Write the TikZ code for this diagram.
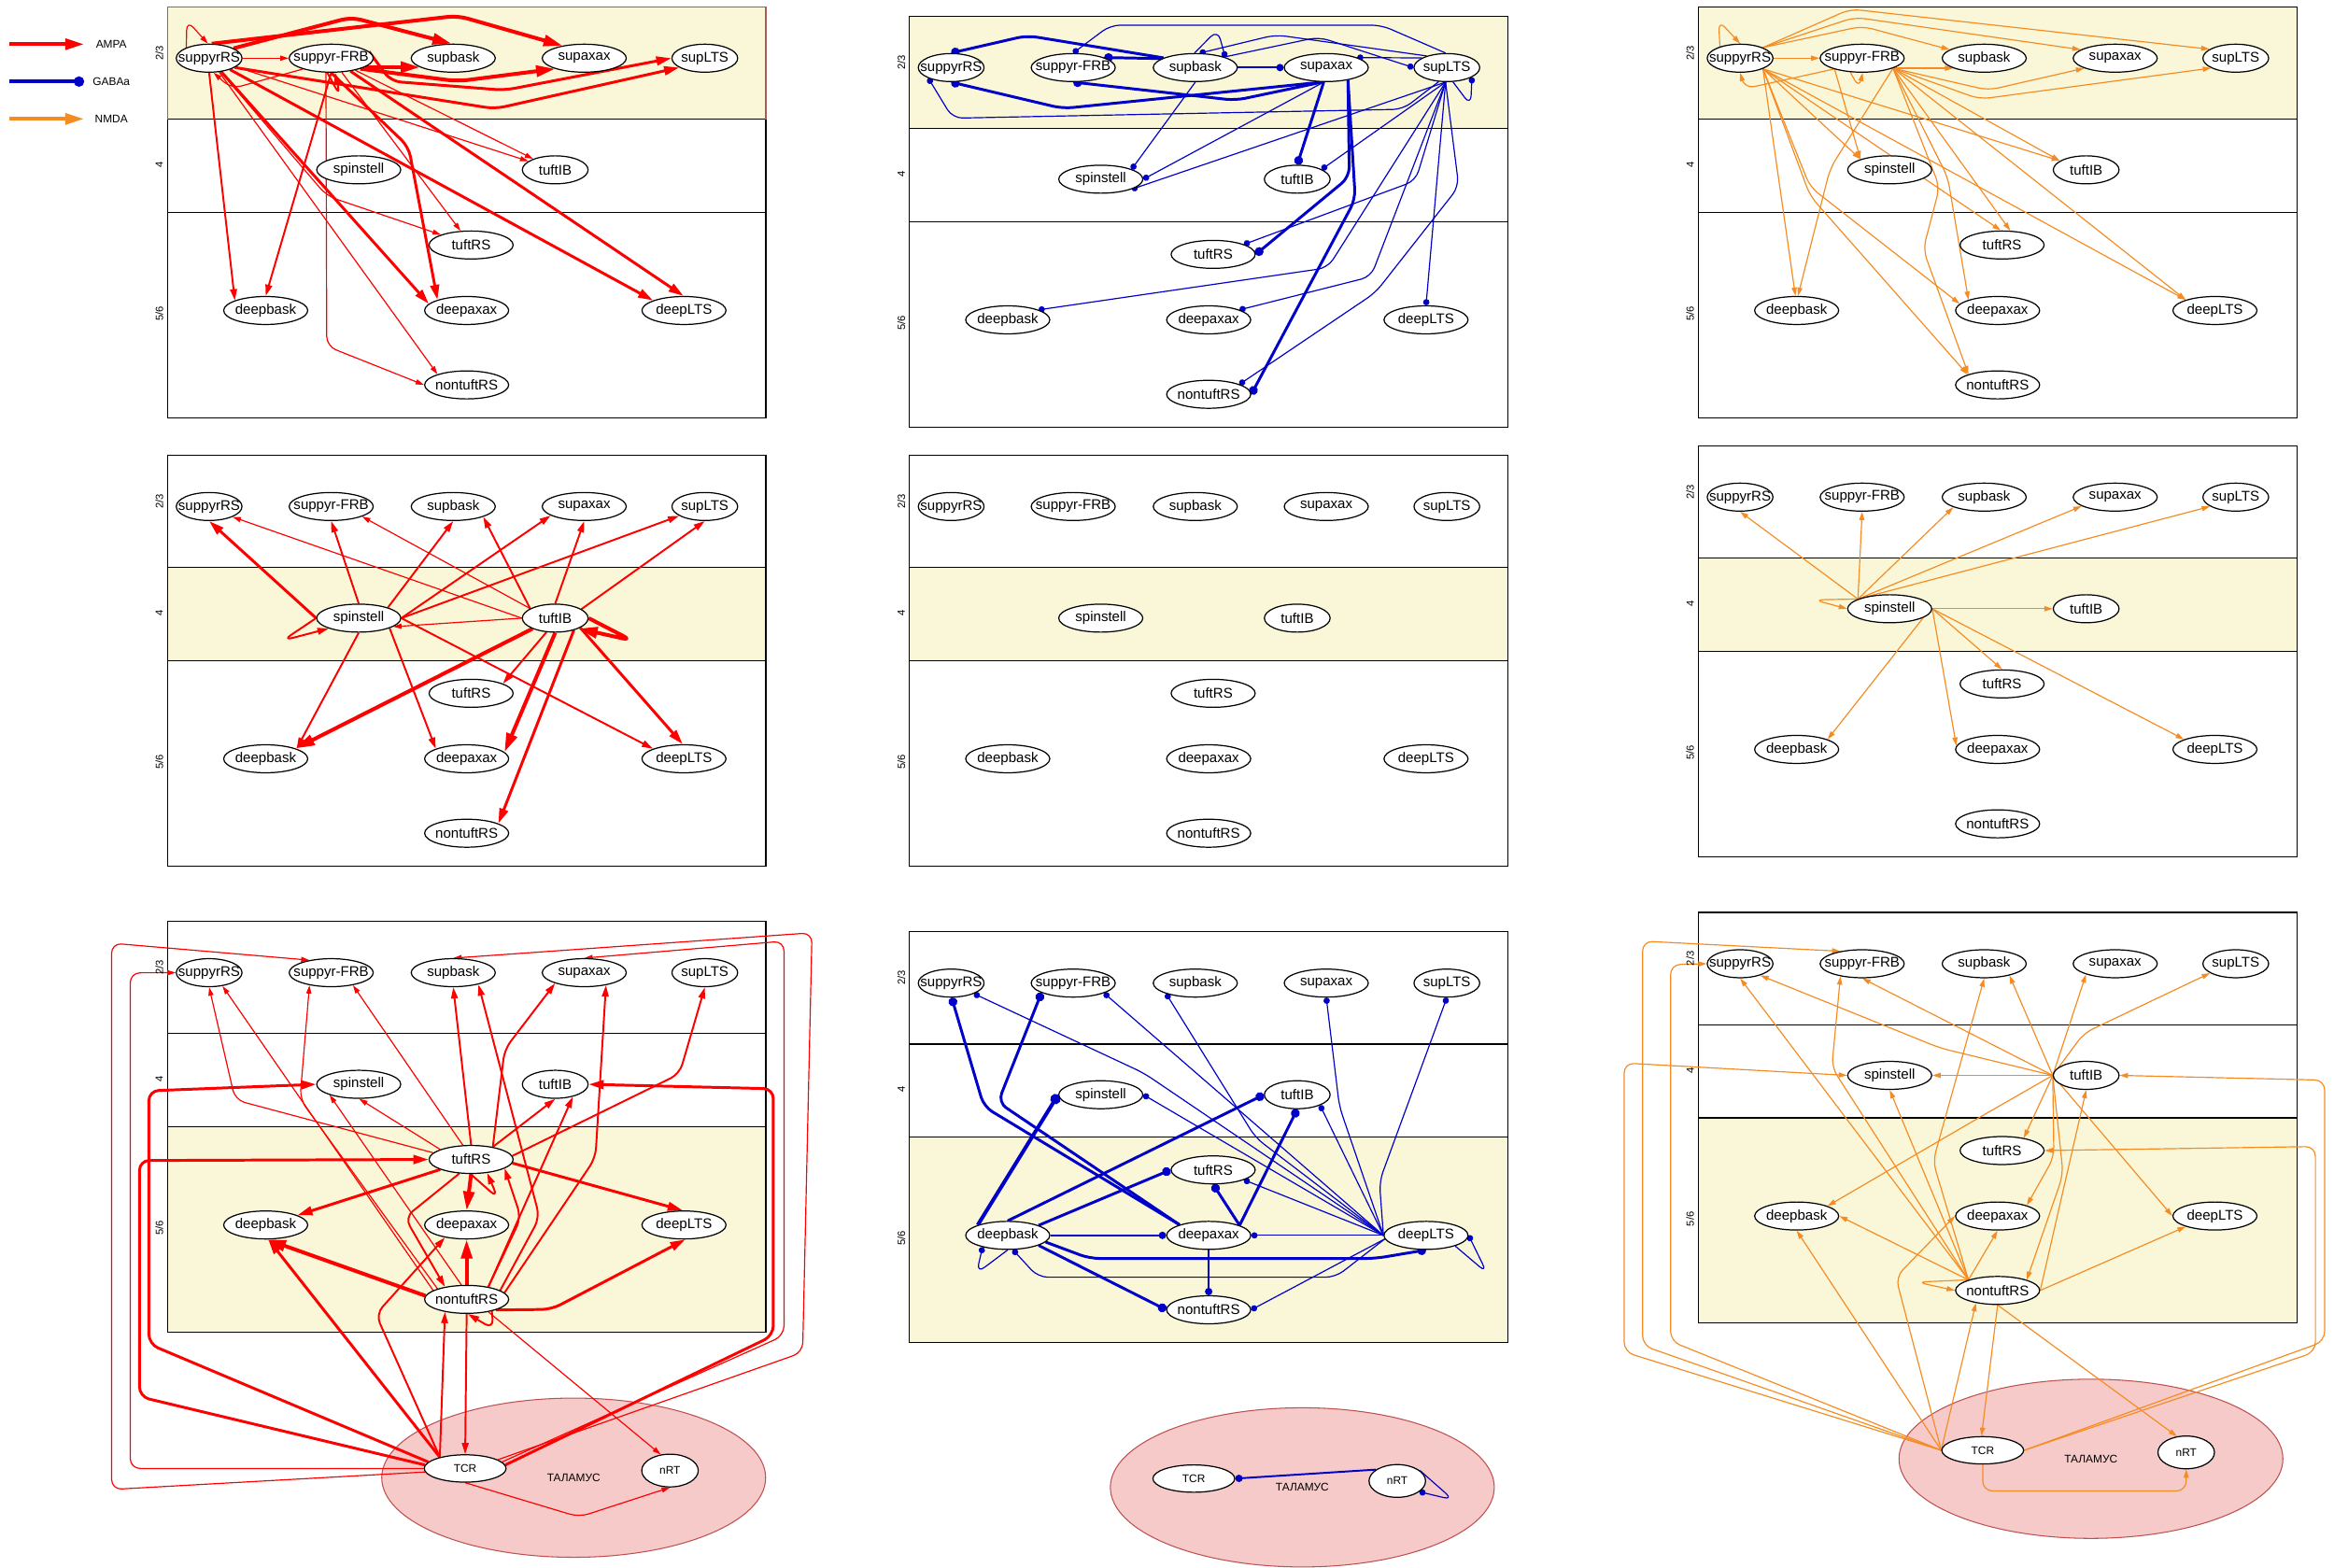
\documentclass[tikz,border=0pt]{standalone}
\usepackage{fontspec}
\setmainfont{Liberation Sans}
\usetikzlibrary{shapes.geometric,arrows.meta}
\definecolor{ampa}{RGB}{255,0,0}
\definecolor{gaba}{RGB}{0,0,200}
\definecolor{nmda}{RGB}{245,140,35}
\definecolor{bandc}{RGB}{249,247,216}
\definecolor{thfill}{RGB}{247,202,202}
\definecolor{thdraw}{RGB}{190,80,80}
\definecolor{boxbrown}{RGB}{170,90,80}
\pgfdeclarelayer{bands}\pgfdeclarelayer{edges}
\pgfsetlayers{bands,edges,main}
\newcommand\zbox[1]{\makebox[0pt]{#1}}
\newcommand\cellfont{\fontsize{4.3}{5}\selectfont}
\newcommand\smallfnt{\fontsize{3.4}{4}\selectfont}
\newcommand\layfnt{\fontsize{3.2}{4}\selectfont}
\tikzset{
 cell/.style={ellipse, draw=black, line width=0.35pt, fill=white, inner sep=0pt, minimum width=0.904cm, minimum height=0.301cm, font=\cellfont},
 cellN/.style={cell, minimum width=0.707cm},
 tcr/.style={cell, minimum width=0.88cm, minimum height=0.294cm, font=\smallfnt},
 nrt/.style={cell, minimum width=0.608cm, minimum height=0.352cm, font=\smallfnt},
 thal/.style={ellipse, draw=thdraw, line width=0.3pt, fill=thfill, inner sep=0pt, minimum width=4.128cm, minimum height=1.712cm, font=\smallfnt},
 lay/.style={rotate=90, inner sep=0pt, font=\layfnt},
 band/.style={fill=bandc},
 box/.style={draw=black, line width=0.35pt},
 conn/.style={rounded corners=3pt, line join=round},
 am/.style={conn, draw=ampa, -{Triangle[length=1.2pt 4, width=0.8pt 2.2]}},
 ga/.style={conn, draw=gaba, -{Circle[length=1.4pt 1.5]}},
 nm/.style={conn, draw=nmda, -{Triangle[length=1.2pt 4, width=0.8pt 2.2]}},
 wA/.style={line width=0.34pt}, wB/.style={line width=0.56pt},
 wC/.style={line width=0.85pt}, wD/.style={line width=1.15pt},
}
\newcommand\mkcells[1]{%
 \node[cellN] (#1-sr) at (28,34.5) {\zbox{suppyrRS}};
 \node[cell] (#1-sf) at (110,34.5) {\zbox{suppyr-FRB}};
 \node[cell] (#1-sb) at (192,34.5) {\zbox{supbask}};
 \node[cell] (#1-sa) at (280,34.5) {\zbox{supaxax}};
 \node[cellN] (#1-sl) at (361,34.5) {\zbox{supLTS}};
 \node[cell] (#1-ss) at (128.5,109.5) {\zbox{spinstell}};
 \node[cellN] (#1-ti) at (260.5,109.5) {\zbox{tuftIB}};
 \node[cell] (#1-tr) at (204,160) {\zbox{tuftRS}};
 \node[cell] (#1-db) at (66,204) {\zbox{deepbask}};
 \node[cell] (#1-da) at (201,204) {\zbox{deepaxax}};
 \node[cell] (#1-dl) at (347,204) {\zbox{deepLTS}};
 \node[cell] (#1-nr) at (201,254) {\zbox{nontuftRS}};}
\newcommand\mkpanel[4]{%
 \begin{scope}[shift={(#2,#3)}]
  \begin{pgfonlayer}{bands}
   \ifcase#4\or \fill[band] (0,0) rectangle (402,75.5);%
   \or \fill[band] (0,75.5) rectangle (402,138);%
   \or \fill[band] (0,138) rectangle (402,276);\fi
   \draw[box] (0,0) rectangle (402,276) (0,75.5) -- (402,75.5) (0,138) -- (402,138);
  \end{pgfonlayer}
  \node[lay] (#1-L1) at (-5.5,31) {2/3};
  \node[lay] (#1-L2) at (-5.5,106) {4};
  \node[lay] (#1-L3) at (-5.5,206) {5/6};
  \mkcells{#1}
 \end{scope}}
\begin{document}
\begin{tikzpicture}[x=0.016cm, y=-0.016cm]
\useasboundingbox (0,0) rectangle (1568,1053);
% legend
\coordinate (lg1a) at (6,29.7); \coordinate (lg1b) at (56.5,29.7);
\coordinate (lg2a) at (6,54.8); \coordinate (lg2b) at (56.5,54.8);
\coordinate (lg3a) at (6,79.9); \coordinate (lg3b) at (56.5,79.9);
\node[font=\smallfnt] (lg1) at (74.8,29.7) {AMPA};
\node[font=\smallfnt] (lg2) at (74.8,54.8) {GABAa};
\node[font=\smallfnt] (lg3) at (74.8,79.9) {NMDA};
\draw[am, line width=1.15pt] (lg1a) -- (lg1b);
\draw[ga, line width=1.15pt] (lg2a) -- (lg2b);
\draw[nm, line width=1.15pt] (lg3a) -- (lg3b);
% panels
\mkpanel{A}{112.5}{4.6}{1}
\begin{scope}[shift={(112.5,4.6)}]
 \begin{pgfonlayer}{bands}\draw[draw=boxbrown, line width=0.35pt] (0,75.5) -- (0,0) -- (402,0) -- (402,75.5);\end{pgfonlayer}
\end{scope}
\mkpanel{B}{611}{10.9}{1}
\mkpanel{C}{1141}{4.6}{1}
\mkpanel{D}{112.5}{305.8}{2}
\mkpanel{E}{611}{305.8}{2}
\mkpanel{F}{1141}{299.5}{2}
\mkpanel{G}{112.5}{619}{3}
\mkpanel{H}{611}{626}{3}
\mkpanel{I}{1141}{613}{3}
% thalamus
\begin{scope}[shift={(112.5,619)}]
 \begin{pgfonlayer}{bands}\node[thal] (G-th) at (272.9,373.8) {ТАЛАМУС};\end{pgfonlayer}
 \node[tcr] (G-tc) at (200,367.6) {TCR};
 \node[nrt] (G-nt) at (337.6,369) {nRT};
\end{scope}
\begin{scope}[shift={(611,626)}]
 \begin{pgfonlayer}{bands}\node[thal] (H-th) at (263.9,373.3) {ТАЛАМУС};\end{pgfonlayer}
 \node[tcr] (H-tc) at (191,367.4) {TCR};
 \node[nrt] (H-nt) at (327.7,369) {nRT};
\end{scope}
\begin{scope}[shift={(1141,613)}]
 \begin{pgfonlayer}{bands}\node[thal] (I-th) at (263.7,367.1) {ТАЛАМУС};\end{pgfonlayer}
 \node[tcr] (I-tc) at (191,361.4) {TCR};
 \node[nrt] (I-nt) at (327.7,362.8) {nRT};
\end{scope}
\begin{pgfonlayer}{edges}
% ---------- A
\begin{scope}[shift={(112.5,4.6)}]
\draw[am,wA] (A-sr.155) -- (13,9) -- (A-sr.95);
\draw[am,wA] (A-sr) -- (A-sf);
\draw[am,wD] (A-sr.22) -- (123.5,7) -- (A-sb.97);
\draw[am,wD] (A-sr.80) -- (195,6) -- (A-sa.150);
\draw[am,wD] (A-sf.-15) -- (A-sb.-165);
\draw[am,wD] (A-sf.-20) -- (195,50) -- (A-sa.-160);
\draw[am,wC] (A-sf.10) -- (150,50) -- (226.5,56) -- (A-sl.180);
\draw[am,wC] (A-sr.-20) -- (220,68.5) -- (A-sl.200);
\draw[am,wB] (A-sf.-105) -- (116,60) -- (A-sf.-75);
\draw[am,wA] (A-sf.-159) -- (43,55) -- (A-sr.-73);
\draw[am,wA] (A-sr) -- (A-ti);
\draw[am,wA] (A-sf) -- (A-ti);
\draw[am,wA] (A-sr) -- (107,127) -- (A-tr);
\draw[am,wA] (A-sf) -- (A-tr);
\draw[am,wB] (A-sr.-90) -- (A-db.162);
\draw[am,wB] (A-sf.-90) -- (A-db.90);
\draw[am,wC] (A-sr) -- (A-da.170);
\draw[am,wC] (A-sf.-90) -- (162,94) -- (A-da.160);
\draw[am,wC] (A-sr) -- (A-dl.162);
\draw[am,wC] (A-sf) -- (A-dl.92);
\draw[am,wA] (A-sr) -- (A-nr.160);
\draw[am,wA] (A-sf.-110) -- (107,228) -- (A-nr.180);
\end{scope}
% ---------- B
\begin{scope}[shift={(611,10.9)}]
\draw[ga,wC] (B-sb.163) -- (79,13) -- (B-sr.90);
\draw[ga,wC] (B-sb.165) -- (B-sf.18);
\draw[ga,wA] (B-sb.93) -- (207,9) -- (B-sb.19);
\draw[ga,wB] (B-sb) -- (B-sa);
\draw[ga,wA] (B-sb.-90) -- (B-ss.18);
\draw[ga,wC] (B-sa.-105) -- (103,62) -- (B-sr.-90);
\draw[ga,wC] (B-sa.-105) -- (219,56.5) -- (B-sf.-90);
\draw[ga,wA] (B-sa.-100) -- (B-ss.0);
\draw[ga,wC] (B-sa.-100) -- (B-ti.90);
\draw[ga,wC] (B-sa.-30) -- (295.5,108) -- (B-tr.0);
\draw[ga,wC] (B-sa.-30) -- (299.5,123) -- (B-nr.0);
\draw[ga,wA] (B-sl.95) -- (317,6) -- (135,6) -- (B-sf.90);
\draw[ga,wA] (B-sb.20) -- (275,14) -- (B-sl.180);
\draw[ga,wA] (B-sl.150) -- (246,12.5) -- (B-sb.73);
\draw[ga,wA] (B-sl.159) -- (B-sa.18);
\draw[ga,wA] (B-sl.-120) -- (331.5,62.5) -- (29,68.5) -- (B-sr.205);
\draw[ga,wA] (B-sl.-67) -- (377,60) -- (B-sl.-21);
\draw[ga,wA] (B-sl.-95) -- (B-ss.-18);
\draw[ga,wA] (B-sl.-95) -- (B-ti.22);
\draw[ga,wA] (B-sl.-95) -- (340,110.5) -- (B-tr.18);
\draw[ga,wA] (B-sl.-95) -- (281,169) -- (B-db.18);
\draw[ga,wA] (B-sl.-95) -- (310,175) -- (B-da.18);
\draw[ga,wA] (B-sl.-95) -- (B-dl.90);
\draw[ga,wA] (B-sl.-95) -- (369,114.5) -- (313,185.7) -- (B-nr.18);
\end{scope}
% ---------- C
\begin{scope}[shift={(1141,4.6)}]
\draw[nm,wA] (C-sr.150) -- (13.5,9) -- (C-sr.90);
\draw[nm,wA] (C-sr) -- (C-sf);
\draw[nm,wA] (C-sr.25) -- (110,13) -- (C-sb.166);
\draw[nm,wA] (C-sr.25) -- (105,7) -- (C-sa.166);
\draw[nm,wA] (C-sr.25) -- (102,1.5) -- (C-sl.161);
\draw[nm,wA] (C-sf.-159) -- (31,55) -- (C-sr.-90);
\draw[nm,wA] (C-sf.-130) -- (108,55) -- (C-sf.-88);
\draw[nm,wA] (C-sf.-18) -- (C-sb.-162);
\draw[nm,wA] (C-sf.-18) -- (194.7,56) -- (C-sa.-162);
\draw[nm,wA] (C-sf.-18) -- (189,62) -- (C-sl.-158);
\draw[nm,wA] (C-sr.-25) -- (C-ss.160);
\draw[nm,wA] (C-sf.-158) -- (C-ss.160);
\draw[nm,wA] (C-sr.-25) -- (C-ti.161);
\draw[nm,wA] (C-sf.-18) -- (C-ti.161);
\draw[nm,wA] (C-sr.-25) -- (C-tr.95);
\draw[nm,wA] (C-sf.-18) -- (C-tr.60);
\draw[nm,wA] (C-sr.-25) -- (C-db.95);
\draw[nm,wA] (C-sf.-18) -- (88.5,108.5) -- (C-db.85);
\draw[nm,wA] (C-sr.-25) -- (75,121) -- (C-da.170);
\draw[nm,wA] (C-sf.-18) -- (167.5,114.5) -- (C-da.160);
\draw[nm,wA] (C-sr.-25) -- (C-dl.160);
\draw[nm,wA] (C-sf.-18) -- (C-dl.160);
\draw[nm,wA] (C-sr.-25) -- (75,127) -- (C-nr.161);
\draw[nm,wA] (C-sf.-18) -- (162,121) -- (151,163) -- (C-nr.160);
\end{scope}
% ---------- D
\begin{scope}[shift={(112.5,305.8)}]
\draw[am,wC] (D-ss.180) -- (D-sr.-90);
\draw[am,wB] (D-ss.90) -- (D-sf.-90);
\draw[am,wB] (D-ss.20) -- (D-sb.-90);
\draw[am,wB] (D-ss.0) -- (D-sa.195);
\draw[am,wB] (D-ss.0) -- (D-sl.200);
\draw[am,wB] (D-ss.180) -- (77.5,124.5) -- (D-ss.199);
\draw[am,wB] (D-ss.-90) -- (D-db.18);
\draw[am,wB] (D-ss.-18) -- (D-da.162);
\draw[am,wB] (D-ss.0) -- (D-dl.162);
\draw[am,wA] (D-ti.180) -- (D-sr.-24);
\draw[am,wA] (D-ti.159) -- (D-sf.-18);
\draw[am,wB] (D-ti.159) -- (D-sb.-19);
\draw[am,wB] (D-ti.90) -- (D-sa.-90);
\draw[am,wB] (D-ti.19) -- (D-sl.-90);
\draw[am,wA] (D-ti.180) -- (D-ss.-14);
\draw[am,wD] (D-ti.0) -- (312,124.5) -- (D-ti.-24);
\draw[am,wB] (D-ti.-122) -- (D-tr.17);
\draw[am,wD] (D-ti.-155) -- (D-db.19);
\draw[am,wD] (D-ti.-90) -- (D-da.10);
\draw[am,wC] (D-ti.-21) -- (D-dl.95);
\draw[am,wC] (D-ti.-33) -- (D-nr.17);
\end{scope}
% ---------- F
\begin{scope}[shift={(1141,299.5)}]
\draw[nm,wA] (F-ss.163) -- (F-sr.-90);
\draw[nm,wA] (F-ss.163) -- (F-sf.-90);
\draw[nm,wA] (F-ss.163) -- (F-sb.198);
\draw[nm,wA] (F-ss.163) -- (F-sa.195);
\draw[nm,wA] (F-ss.163) -- (F-sl.200);
\draw[nm,wA] (F-ss.163) -- (77.5,103.5) -- (F-ss.180);
\draw[nm,wA] (F-ss) -- (F-ti);
\draw[nm,wA] (F-ss.0) -- (F-tr.90);
\draw[nm,wA] (F-ss.-15) -- (F-db.18);
\draw[nm,wA] (F-ss.0) -- (F-da.175);
\draw[nm,wA] (F-ss.0) -- (F-dl.162);
\end{scope}
% ---------- G
\begin{scope}[shift={(112.5,619)}]
\draw[am,wA] (G-tr.170) -- (45.5,120) -- (G-sr.-90);
\draw[am,wA] (G-tr.120) -- (G-sf.-30);
\draw[am,wB] (G-tr.90) -- (G-sb.-90);
\draw[am,wB] (G-tr.30) -- (226.5,86) -- (G-sa.200);
\draw[am,wB] (G-tr.5) -- (344,102.5) -- (G-sl.-90);
\draw[am,wA] (G-tr.162) -- (G-ss.-88);
\draw[am,wB] (G-tr.30) -- (G-ti.-90);
\draw[am,wC] (G-tr.198) -- (G-db.17);
\draw[am,wD] (G-tr.-90) -- (G-da.90);
\draw[am,wC] (G-tr.-5) -- (G-dl.95);
\draw[am,wB] (G-tr.-92) -- (222,186) -- (G-tr.-40);
\draw[am,wB] (G-tr.-130) -- (159.5,199) -- (G-nr.150);
\draw[am,wA] (G-nr.165) -- (G-sr.-45);
\draw[am,wA] (G-nr.160) -- (89,119.5) -- (G-sf.-150);
\draw[am,wB] (G-nr.15) -- (250,199) -- (G-sb.-25);
\draw[am,wB] (G-nr.10) -- (287.5,159) -- (G-sa.-30);
\draw[am,wA] (G-nr.110) -- (G-ss.200);
\draw[am,wB] (G-nr.30) -- (G-ti.-35);
\draw[am,wB] (G-nr.30) -- (237.5,199) -- (G-tr.-15);
\draw[am,wD] (G-nr.175) -- (G-db.-85);
\draw[am,wD] (G-nr.90) -- (G-da.-90);
\draw[am,wC] (G-nr.-20) -- (258,260.7) -- (G-dl.-85);
\draw[am,wB] (G-nr.-25) -- (219,274) -- (G-nr.-85);
\draw[am,wB] (G-nr.-90) -- (G-tc.90);
\draw[am,wA] (G-nr.-30) -- (G-nt.120);
\draw[am,wA] (G-tc.180) -- (-25,367.6) -- (-25,34.6) -- (G-sr.180);
\draw[am,wA] (G-tc.185) -- (-37.5,381.7) -- (-37.5,14.7) -- (G-sf.150);
\draw[am,wA] (G-tc.15) -- (426.7,289.6) -- (433,7.7) -- (G-sb.90);
\draw[am,wA] (G-tc.10) -- (414.2,278.3) -- (414.2,13.3) -- (G-sa.90);
\draw[am,wC] (G-tc.170) -- (-12.5,284) -- (-12.5,113.9) -- (G-ss.180);
\draw[am,wC] (G-tc.5) -- (407,278.3) -- (407,112.5) -- (G-ti.0);
\draw[am,wC] (G-tc.175) -- (-18.8,319.4) -- (-18.8,160.7) -- (G-tr.180);
\draw[am,wC] (G-tc.156) -- (G-db.-80);
\draw[am,wB] (G-tc.156) -- (140,264) -- (G-da.-150);
\draw[am,wB] (G-tc.156) -- (G-nr.-150);
\draw[am,wA] (G-tc.-90) -- (276.6,400.2) -- (G-nt.-90);
\end{scope}
% ---------- H
\begin{scope}[shift={(611,626)}]
\draw[ga,wC] (H-da.160) -- (50,117.5) -- (H-sr.-88);
\draw[ga,wC] (H-da.160) -- (59.5,114.6) -- (H-sf.-163);
\draw[ga,wD] (H-db.161) -- (H-ss.180);
\draw[ga,wC] (H-db.90) -- (H-ti.180);
\draw[ga,wC] (H-db.18) -- (H-tr.180);
\draw[ga,wB] (H-db) -- (H-da);
\draw[ga,wC] (H-db.-10) -- (121,219.5) -- (313,219.5) -- (H-dl.-90);
\draw[ga,wC] (H-db.-18) -- (H-nr.180);
\draw[ga,wA] (H-db.-90) -- (45,229.5) -- (H-db.-155);
\draw[ga,wC] (H-da.18) -- (H-ti.-90);
\draw[ga,wC] (H-da.18) -- (H-tr.-90);
\draw[ga,wB] (H-da.-90) -- (H-nr.90);
\draw[ga,wA] (H-dl.180) -- (H-da.0);
\draw[ga,wA] (H-dl.180) -- (157.5,95) -- (H-sr.-25);
\draw[ga,wA] (H-dl.180) -- (H-sf.-18);
\draw[ga,wA] (H-dl.180) -- (232.5,138.4) -- (H-sb.-160);
\draw[ga,wA] (H-dl.180) -- (288.8,117.4) -- (H-sa.-90);
\draw[ga,wA] (H-dl.180) -- (315.7,167.8) -- (H-sl.-90);
\draw[ga,wA] (H-dl.180) -- (H-ss.0);
\draw[ga,wA] (H-dl.180) -- (H-ti.-25);
\draw[ga,wA] (H-dl.180) -- (H-tr.-18);
\draw[ga,wA] (H-dl.185) -- (286.2,232.1) -- (86.4,232.1) -- (H-db.-70);
\draw[ga,wA] (H-dl.185) -- (H-nr.0);
\draw[ga,wA] (H-dl.-20) -- (388,229.3) -- (H-dl.0);
\draw[ga,wB] (H-nt.152) -- (H-tc.0);
\draw[ga,wA] (H-nt.25) -- (365.3,381.7) -- (H-nt.-26);
\end{scope}
% ---------- I
\begin{scope}[shift={(1141,613)}]
\draw[nm,wA] (I-ti.180) -- (162.3,91.1) -- (I-sr.-30);
\draw[nm,wA] (I-ti.180) -- (I-sf.-90);
\draw[nm,wA] (I-ti.180) -- (I-sb.-25);
\draw[nm,wA] (I-ti.180) -- (I-sa.200);
\draw[nm,wA] (I-ti.180) -- (259,81.1) -- (I-sl.200);
\draw[nm,wA] (I-ti.180) -- (I-ss.0);
\draw[nm,wA] (I-ti.180) -- (I-tr.30);
\draw[nm,wA] (I-ti.180) -- (187.3,138.6) -- (I-db.18);
\draw[nm,wA] (I-ti.180) -- (238.8,164.5) -- (I-da.20);
\draw[nm,wA] (I-ti.180) -- (I-dl.180);
\draw[nm,wA] (I-ti.180) -- (245,176) -- (I-nr.20);
\draw[nm,wA] (I-nr.160) -- (I-sr.-90);
\draw[nm,wA] (I-nr.160) -- (89.6,104.1) -- (I-sf.-150);
\draw[nm,wA] (I-nr.160) -- (157.6,167.3) -- (I-sb.-90);
\draw[nm,wA] (I-nr.160) -- (I-ss.-90);
\draw[nm,wA] (I-nr.0) -- (I-ti.-90);
\draw[nm,wA] (I-nr.160) -- (I-db.0);
\draw[nm,wA] (I-nr.160) -- (I-da.-90);
\draw[nm,wA] (I-nr.0) -- (I-dl.200);
\draw[nm,wA] (I-nr.160) -- (146.7,248.4) -- (I-nr.180);
\draw[nm,wA] (I-nr.-90) -- (I-tc.95);
\draw[nm,wA] (I-nr.-90) -- (I-nt.120);
\draw[nm,wA] (I-tc.180) -- (-18.7,288.1) -- (-18.7,35.1) -- (I-sr.180);
\draw[nm,wA] (I-tc.180) -- (-37.5,291) -- (-37.5,19.3) -- (I-sf.150);
\draw[nm,wA] (I-tc.180) -- (-49.9,295.3) -- (-49.9,101.2) -- (I-ss.180);
\draw[nm,wA] (I-tc.0) -- (420.7,288.1) -- (420.7,112.7) -- (I-ti.0);
\draw[nm,wA] (I-tc.0) -- (414.5,295.3) -- (414.5,157.3) -- (I-tr.0);
\draw[nm,wA] (I-tc.180) -- (I-db.-90);
\draw[nm,wA] (I-tc.180) -- (132.6,245) -- (I-da.180);
\draw[nm,wA] (I-tc.180) -- (I-nr.-150);
\draw[nm,wA] (I-tc.-90) -- (191,388.7) -- (327.7,388.7) -- (I-nt.-90);
\end{scope}
\end{pgfonlayer}
\end{tikzpicture}
\end{document}
